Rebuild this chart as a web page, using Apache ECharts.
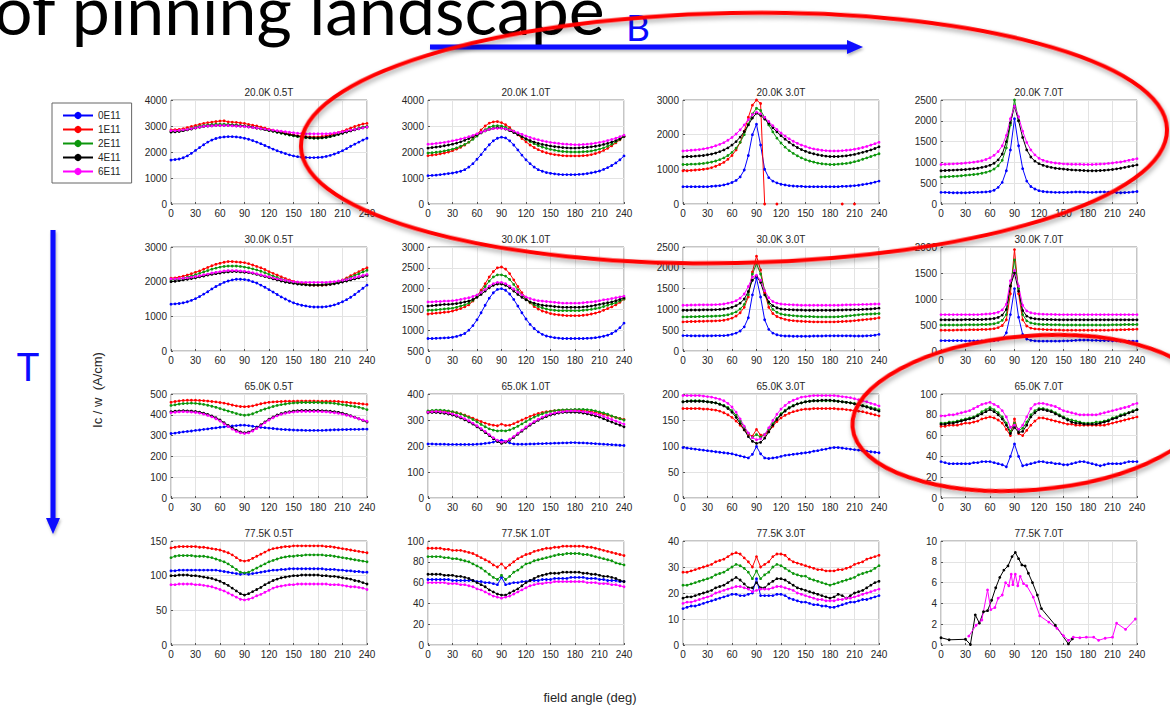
<!DOCTYPE html>
<html>
<head>
<meta charset="utf-8">
<script src="https://cdn.jsdelivr.net/npm/echarts@6/dist/echarts.min.js"></script>
<style>
html,body{margin:0;padding:0;background:#fff;}
#chart{width:1170px;height:709px;}
</style>
</head>
<body>
<div id="chart"></div>
<script>
// ---------- data ----------
const ANGLES = [0,5,10,15,20,25,30,35,40,45,50,55,60,65,70,75,80,85,90,95,100,105,110,115,120,125,130,135,140,145,150,155,160,165,170,175,180,185,190,195,200,205,210,215,220,225,230,235,240];
const X_TICKS = [0,30,60,90,120,150,180,210,240];
const DOSES = ['0E11','1E11','2E11','4E11','6E11'];
const TEMPS = ['20.0K','30.0K','65.0K','77.5K'];
const FIELDS = ['0.5T','1.0T','3.0T','7.0T'];
// [min, max, step] of the Ic/w axis for each panel, row by row
const Y_AXES = [
  [0,4000,1000],[0,4000,1000],[0,3000,1000],[0,2500,500],
  [0,3000,1000],[500,3000,500],[0,2500,500],[0,2000,500],
  [0,500,100],[0,400,100],[0,200,50],[0,100,20],
  [0,150,50],[0,100,20],[0,40,10],[0,10,2]
];

// Ic/w (A/cm) per dose [0E11, 1E11, 2E11, 4E11, 6E11], sampled on ANGLES
const IC_20K_05T = [
  [1690,1710,1730,1780,1850,1950,2060,2170,2280,2380, 2460,2520,2560,2580,2590,2590,2580,2560,2530,2490, 2440,2380,2320,2250,2180,2110,2050,1990,1940,1890, 1850,1820,1800,1790,1785,1785,1790,1800,1830,1870, 1920,1980,2050,2130,2220,2300,2380,2460,2530],
  [2850,2860,2870,2900,2940,2980,3020,3060,3100,3130, 3150,3170,3190,3200,3160,3150,3140,3120,3100,3060, 3030,3000,2960,2920,2880,2840,2800,2760,2720,2690, 2660,2630,2610,2590,2580,2580,2580,2600,2620,2660, 2700,2750,2800,2860,2920,2980,3030,3080,3100],
  [2780,2790,2800,2830,2870,2910,2950,2990,3020,3040, 3060,3070,3070,3070,3060,3050,3040,3020,3000,2980, 2950,2920,2890,2860,2830,2800,2760,2720,2690,2650, 2620,2590,2570,2550,2540,2530,2530,2540,2560,2590, 2630,2680,2730,2780,2830,2880,2920,2960,2980],
  [2770,2780,2790,2820,2850,2880,2920,2950,2980,3000, 3010,3020,3020,3020,3020,3020,3010,3000,2990,2970, 2950,2920,2890,2860,2830,2800,2770,2740,2700,2670, 2640,2610,2590,2570,2550,2540,2540,2550,2570,2600, 2640,2680,2720,2770,2810,2850,2890,2930,2960],
  [2820,2820,2830,2850,2870,2900,2930,2960,2990,3000, 3010,3020,3020,3020,3020,3010,3000,2990,2980,2960, 2940,2920,2900,2880,2860,2840,2820,2800,2780,2760, 2740,2720,2710,2700,2700,2700,2700,2700,2700,2710, 2730,2750,2780,2810,2840,2870,2900,2930,2960]
];
const IC_20K_1T = [
  [1090,1100,1110,1130,1150,1170,1190,1220,1260,1320, 1420,1550,1720,1900,2100,2280,2430,2530,2570,2540, 2430,2270,2080,1880,1700,1550,1420,1320,1260,1210, 1180,1160,1140,1130,1130,1130,1130,1140,1150,1170, 1200,1230,1270,1330,1400,1480,1580,1700,1850],
  [1860,1880,1900,1930,1960,2000,2050,2110,2180,2270, 2380,2520,2680,2850,3000,3110,3160,3170,3130,3050, 2940,2800,2660,2520,2390,2270,2170,2090,2020,1970, 1930,1900,1880,1860,1850,1850,1850,1850,1860,1870, 1900,1940,1990,2060,2140,2240,2350,2470,2600],
  [1960,1970,1990,2010,2040,2070,2110,2160,2220,2290, 2380,2490,2610,2740,2860,2950,3000,3010,3000,2950, 2880,2790,2690,2590,2490,2400,2320,2250,2190,2140, 2100,2070,2040,2020,2010,2000,2000,2000,2010,2020, 2040,2070,2110,2160,2220,2300,2390,2490,2600],
  [2150,2170,2190,2210,2240,2270,2300,2340,2390,2450, 2520,2590,2660,2740,2810,2870,2910,2930,2920,2880, 2820,2750,2670,2590,2510,2440,2380,2330,2290,2260, 2230,2210,2190,2170,2160,2150,2150,2160,2170,2180, 2200,2220,2250,2290,2330,2380,2440,2510,2600],
  [2300,2310,2330,2350,2370,2400,2430,2460,2500,2540, 2590,2640,2700,2760,2820,2870,2900,2910,2910,2890, 2850,2800,2740,2680,2620,2560,2510,2470,2430,2400, 2370,2350,2330,2310,2300,2290,2280,2280,2290,2300, 2320,2340,2370,2400,2440,2480,2530,2590,2650]
];
const IC_20K_3T = [
  [500,500,500,500,500,500,500,510,520,530, 550,580,620,680,780,980,1400,2000,2300,1700, 1000,760,660,610,570,550,530,520,510,510, 500,500,500,500,500,500,500,500,500,510, 510,520,530,540,560,580,600,630,660],
  [960,960,970,980,990,1000,1020,1050,1090,1140, 1200,1290,1400,1560,1780,2100,2500,2850,3000,2900, 0,null,null,0,null,null,null,null,null,null, null,null,null,null,null,null,null,null,null,0, null,null,0,null,null,null,null,null,null],
  [1140,1140,1150,1150,1160,1170,1190,1210,1240,1280, 1330,1400,1490,1610,1780,2000,2300,2600,2760,2700, 2500,2280,2080,1900,1760,1640,1540,1460,1390,1330, 1280,1240,1210,1180,1160,1150,1140,1140,1150,1160, 1170,1190,1220,1250,1290,1330,1370,1410,1450],
  [1360,1370,1370,1380,1390,1400,1420,1440,1470,1510, 1560,1620,1700,1800,1930,2090,2280,2480,2620,2560, 2450,2330,2200,2080,1970,1870,1780,1700,1630,1570, 1520,1480,1450,1420,1400,1380,1370,1370,1370,1380, 1390,1410,1430,1460,1490,1520,1560,1600,1650],
  [1530,1540,1550,1560,1570,1590,1610,1640,1680,1720, 1770,1840,1920,2020,2140,2280,2430,2580,2650,2600, 2500,2380,2260,2150,2050,1960,1880,1810,1750,1700, 1660,1620,1590,1570,1550,1540,1530,1530,1530,1540, 1550,1560,1580,1600,1630,1660,1700,1740,1780]
];
const IC_20K_7T = [
  [280,280,275,270,270,270,270,275,280,280, 285,290,300,330,400,520,800,1300,2050,1400, 850,550,420,360,320,300,290,285,280,280, 280,280,285,290,290,285,280,280,285,290, 290,285,280,275,270,275,280,290,300],
  [],
  [650,655,660,665,670,680,690,700,710,720, 740,760,790,840,920,1050,1350,1900,2500,2000],
  [800,805,810,815,820,825,830,840,850,860, 880,900,930,980,1060,1200,1500,1950,2350,2000, 1600,1300,1130,1030,970,930,900,880,860,850, 840,830,820,815,810,805,800,800,800,805, 810,820,830,845,860,880,900,920,940],
  [950,955,960,965,970,975,985,995,1005,1020, 1040,1070,1110,1170,1260,1400,1650,2050,2350,2100, 1750,1480,1300,1180,1100,1050,1020,1000,985,975, 965,960,955,955,955,950,950,950,955,960, 965,975,985,1000,1010,1030,1050,1070,1090]
];
const IC_30K_05T = [
  [1350,1360,1370,1390,1420,1460,1510,1570,1640,1710, 1790,1860,1920,1980,2020,2050,2070,2070,2060,2040, 2000,1960,1900,1840,1770,1700,1630,1560,1500,1440, 1390,1350,1320,1300,1280,1270,1270,1270,1280,1300, 1330,1370,1420,1480,1550,1630,1720,1810,1900],
  [2100,2110,2130,2160,2190,2230,2270,2310,2360,2410, 2460,2500,2530,2560,2580,2580,2570,2560,2550,2520, 2480,2440,2400,2350,2290,2240,2190,2140,2090,2050, 2010,1980,1950,1930,1910,1900,1900,1900,1910,1930, 1960,2000,2050,2110,2170,2230,2290,2350,2400],
  [2050,2060,2080,2100,2130,2160,2200,2240,2280,2320, 2360,2390,2420,2440,2450,2450,2450,2440,2420,2400, 2370,2340,2300,2260,2210,2160,2120,2080,2040,2000, 1970,1950,1930,1920,1910,1910,1910,1920,1930,1940, 1960,1990,2030,2080,2130,2180,2230,2280,2330],
  [2000,2010,2030,2050,2070,2090,2110,2140,2160,2190, 2210,2230,2250,2270,2280,2290,2290,2280,2270,2260, 2240,2210,2180,2150,2120,2080,2050,2020,1990,1970, 1950,1930,1920,1910,1900,1900,1900,1900,1910,1920, 1940,1960,1990,2020,2050,2080,2110,2150,2180],
  [2080,2080,2090,2100,2110,2130,2150,2170,2200,2220, 2250,2270,2290,2310,2320,2320,2320,2310,2300,2280, 2260,2230,2200,2170,2140,2110,2080,2060,2040,2020, 2000,1990,1980,1980,1980,1980,1980,1980,1980,1990, 2000,2020,2040,2060,2090,2120,2150,2180,2210]
];
const IC_30K_1T = [
  [800,800,805,810,815,820,830,850,880,920, 1000,1110,1250,1420,1600,1770,1900,1980,2000,1960, 1870,1740,1580,1420,1270,1140,1040,960,900,860, 840,820,810,800,800,800,800,800,800,805, 810,820,835,855,880,920,980,1060,1170],
  [1390,1400,1410,1420,1430,1440,1460,1490,1520,1560, 1610,1700,1820,1960,2120,2280,2410,2500,2520,2470, 2360,2210,2050,1900,1770,1660,1570,1510,1460,1430, 1400,1380,1370,1360,1350,1350,1350,1350,1360,1370, 1390,1410,1440,1480,1520,1560,1610,1670,1750],
  [1480,1480,1490,1500,1510,1520,1530,1550,1580,1610, 1650,1720,1810,1920,2050,2180,2280,2330,2330,2300, 2220,2100,1970,1850,1750,1670,1610,1570,1540,1510, 1490,1480,1470,1470,1470,1470,1470,1470,1480,1490, 1500,1520,1540,1570,1600,1630,1660,1700,1750],
  [1580,1590,1600,1610,1620,1620,1630,1640,1660,1680, 1700,1740,1790,1860,1940,2020,2080,2110,2110,2080, 2020,1940,1860,1790,1730,1680,1650,1620,1600,1590, 1580,1570,1560,1550,1550,1550,1550,1550,1560,1570, 1580,1600,1620,1640,1660,1680,1710,1740,1780],
  [1680,1680,1690,1690,1700,1700,1710,1720,1740,1760, 1780,1810,1850,1910,1980,2060,2120,2150,2150,2120, 2060,1990,1920,1850,1800,1760,1730,1710,1700,1690, 1680,1670,1660,1650,1650,1650,1650,1650,1660,1670, 1680,1690,1710,1730,1740,1760,1780,1800,1820]
];
const IC_30K_3T = [
  [370,370,365,365,365,365,365,365,370,370, 370,380,400,430,480,580,800,1350,1750,1300, 750,520,430,390,370,360,360,355,355,355, 355,355,360,360,360,365,365,365,365,365, 365,365,360,360,360,365,370,380,400],
  [700,705,710,710,715,715,720,720,725,730, 740,760,790,840,920,1050,1300,1900,2280,1950, 1400,1050,900,830,790,760,740,730,720,715, 710,705,700,700,700,700,700,700,705,710, 715,720,730,740,750,760,770,780,800],
  [820,820,825,825,830,830,835,835,840,845, 855,870,900,940,1010,1120,1350,1850,2100,1850, 1450,1150,1000,930,890,870,860,850,840,835, 830,830,825,820,820,820,820,820,825,830, 840,850,860,870,880,885,890,895,900],
  [980,980,985,985,985,990,990,990,995,1000, 1010,1025,1050,1090,1150,1250,1430,1700,1800,1650, 1350,1180,1090,1040,1010,1000,995,990,985,985, 980,980,980,980,980,980,980,980,985,985, 990,990,995,995,1000,1005,1010,1020,1030],
  [1100,1100,1105,1105,1110,1110,1110,1110,1115,1120, 1130,1150,1170,1210,1270,1370,1550,1780,1820,1700, 1450,1280,1190,1150,1130,1120,1115,1110,1105,1100, 1100,1100,1100,1100,1100,1100,1100,1100,1100,1105, 1110,1110,1115,1115,1120,1120,1125,1130,1130]
];
const IC_30K_7T = [
  [200,200,200,200,200,200,195,195,195,195, 195,195,195,200,210,240,350,700,1200,650, 320,230,205,195,190,190,190,190,190,190, 195,195,200,205,210,210,210,205,205,200, 200,200,195,195,190,190,190,190,190],
  [400,400,400,400,405,405,405,410,410,410, 415,415,420,430,450,490,600,1100,1950,1100, 600,480,440,425,420,415,410,410,405,405, 400,400,400,400,400,400,400,400,400,400, 400,400,405,405,410,410,415,415,420],
  [500,500,500,500,500,500,505,505,505,505, 510,510,515,525,545,590,700,1250,1750,1200, 700,580,540,525,515,510,510,505,505,505, 500,500,500,500,500,500,500,500,500,500, 500,500,505,505,505,510,510,510,510],
  [600,600,600,600,600,600,605,605,605,605, 605,610,615,625,645,690,800,1250,1500,1150, 780,670,635,620,612,608,605,605,602,600, 600,600,600,600,600,600,600,600,600,600, 600,600,600,600,600,600,600,600,600],
  [700,700,700,700,700,700,700,700,700,700, 705,710,715,725,745,790,900,1350,1550,1250, 880,770,735,720,712,708,705,705,702,700, 700,700,700,700,700,700,700,700,700,700, 700,700,700,700,700,700,700,700,700]
];
const IC_65K_05T = [
  [310,312,315,318,320,322,325,327,330,332, 335,337,340,342,344,346,348,350,350,348, 345,342,340,338,336,334,332,330,329,328, 327,326,326,325,325,325,325,325,326,327, 328,328,329,329,330,330,330,331,331],
  [460,464,467,469,470,470,470,469,468,466, 464,462,459,456,452,447,443,440,439,440, 443,448,453,457,460,462,463,464,465,465, 465,466,466,466,466,466,465,465,465,465, 465,464,462,460,458,456,454,452,450],
  [445,448,452,454,455,456,455,453,450,446, 441,436,430,424,418,412,406,401,398,400, 405,413,421,428,434,440,445,449,452,455, 457,458,459,459,459,459,459,458,458,457, 455,452,449,446,443,440,436,431,425],
  [415,417,419,420,419,418,416,413,408,402, 395,386,375,362,349,337,326,318,314,317, 326,338,352,366,379,390,399,406,411,415, 418,420,421,421,421,421,421,420,419,417, 415,412,408,402,396,389,381,373,365],
  [410,412,414,415,414,413,411,408,403,397, 390,381,370,357,344,331,320,313,310,313, 322,334,348,362,375,386,395,402,407,411, 413,415,416,416,416,416,416,415,414,412, 410,407,403,398,393,387,381,375,369]
];
const IC_65K_1T = [
  [208,208,207,207,207,206,206,206,206,206, 206,206,207,208,210,212,215,219,222,218, 212,208,207,207,207,208,208,209,209,210, 210,211,211,212,212,213,213,212,212,211, 210,209,208,207,206,205,204,203,202],
  [332,334,335,335,334,333,331,328,324,319, 313,307,300,294,288,283,280,278,284,279, 280,286,293,300,307,314,320,325,329,332, 334,336,337,338,338,338,338,337,336,334, 332,329,326,322,318,314,310,306,302],
  [335,337,338,338,337,335,332,328,323,317, 310,302,293,283,274,266,261,258,259,258, 262,268,276,285,294,303,311,318,324,329, 333,336,338,339,340,340,341,341,341,340, 338,335,331,327,322,316,310,305,300],
  [328,329,329,328,326,323,319,314,308,301, 293,284,274,263,252,240,228,217,210,214, 222,233,245,257,269,280,290,299,307,313, 319,323,327,329,330,330,330,329,327,324, 320,316,311,305,298,292,286,280,274],
  [330,332,333,332,330,327,323,318,312,305, 297,288,278,267,256,244,232,222,215,218, 226,237,249,261,273,284,294,303,311,318, 323,327,330,332,334,335,335,334,332,330, 327,323,319,314,308,302,296,290,284]
];
const IC_65K_3T = [
  [97,96,95,94,93,92,91,90,89,88, 87,86,85,83,81,79,77,84,99,85, 77,76,77,78,80,82,83,84,85,86, 87,88,90,91,93,94,96,97,97,96, 95,94,93,92,91,90,89,88,87],
  [172,172,172,172,172,171,171,170,169,167, 164,160,155,148,140,131,122,119,132,121, 121,128,138,147,154,159,163,166,168,170, 171,171,172,172,172,172,172,172,171,171, 170,169,168,167,166,164,162,160,158],
  [185,186,187,187,187,186,185,184,183,181, 178,174,168,159,148,136,124,117,122,117, 122,132,143,153,162,169,174,178,181,183, 185,186,187,187,187,187,187,187,186,185, 184,183,182,180,178,176,174,172,170],
  [185,186,186,186,186,186,185,184,183,180, 177,172,165,155,143,131,118,109,105,107, 115,127,140,151,160,167,173,177,181,183, 185,186,187,187,188,188,188,187,186,185, 184,183,181,179,177,175,172,170,167],
  [197,197,197,197,197,196,195,194,192,190, 187,182,175,165,152,138,125,116,112,114, 122,135,149,161,171,178,184,188,191,194, 195,196,197,197,197,197,197,197,196,195, 194,193,191,189,187,185,182,180,177]
];
const IC_65K_7T = [
  [35,34,33,33,33,33,33,33,34,34, 35,35,35,34,33,32,30,40,52,40, 31,32,33,34,35,35,34,34,33,33, 32,32,33,34,35,35,34,33,32,31, 32,33,33,33,33,34,35,35,35],
  [69,69,70,70,70,71,72,72,73,74, 76,77,78,77,75,72,66,60,76,62, 60,65,70,74,77,77,76,75,74,73, 72,71,71,70,70,70,70,70,70,70, 70,71,72,73,74,75,76,77,78],
  [72,72,73,73,74,75,76,77,78,80, 83,85,87,85,82,78,72,64,72,65, 67,73,80,84,86,86,85,84,82,80, 78,76,75,74,73,72,72,72,73,73, 74,75,77,78,80,81,82,84,85],
  [71,71,72,72,73,74,75,76,77,79, 81,83,85,83,80,76,70,62,68,63, 64,70,78,82,85,85,84,83,81,79, 77,75,73,72,72,71,71,71,71,72, 73,74,76,77,79,80,82,83,85],
  [79,79,80,80,81,82,83,84,86,88, 90,91,92,90,88,84,78,68,70,66, 70,78,86,90,91,91,90,89,88,86, 84,83,82,81,80,80,80,80,80,81, 82,83,84,85,86,87,88,90,91]
];
const IC_775K_05T = [
  [107,107,108,108,108,108,108,108,108,108, 108,108,107,106,105,104,103,102,103,102, 103,104,105,106,107,108,108,109,109,110, 110,110,110,110,110,110,110,110,109,109, 109,108,108,107,107,106,106,105,105],
  [140,141,142,142,142,142,142,141,141,140, 139,138,137,135,133,130,126,122,121,122, 125,128,131,134,137,139,140,141,142,142, 143,143,143,143,143,143,143,143,142,142, 141,140,139,138,137,136,135,134,133],
  [126,128,129,129,129,129,128,128,128,127, 126,124,122,120,117,113,109,105,104,105, 108,111,114,117,120,122,124,126,127,128, 128,129,129,130,130,130,130,130,129,129, 128,127,126,125,124,123,122,121,120],
  [100,100,101,101,101,100,100,99,98,97, 96,94,92,89,86,82,78,74,72,74, 77,80,83,87,90,93,95,97,98,99, 100,100,101,101,101,101,101,100,100,99, 99,98,97,96,95,93,92,90,88],
  [87,87,88,88,88,88,87,87,86,85, 84,82,80,78,75,72,69,66,65,66, 68,71,73,76,79,82,84,85,86,87, 87,88,88,88,88,88,88,88,88,87, 87,87,86,85,84,84,83,82,80]
];
const IC_775K_1T = [
  [63,63,63,63,63,63,62,62,62,62, 62,62,61,61,60,60,59,58,65,58, 59,60,60,61,61,62,62,62,63,63, 63,64,64,64,64,65,65,65,65,64, 64,64,63,63,62,62,62,61,61],
  [93,93,93,93,92,92,91,91,91,90, 89,88,86,84,82,80,77,75,78,74, 77,80,83,85,87,88,90,91,92,93, 93,94,94,95,95,95,95,95,95,94, 94,93,92,91,90,89,88,87,86],
  [85,85,85,85,84,84,83,83,82,81, 80,78,76,74,71,68,65,63,67,63, 66,70,72,75,78,79,81,82,83,84, 85,86,87,87,88,88,88,88,87,87, 86,85,84,83,82,81,79,78,77],
  [68,68,68,68,67,67,67,66,66,65, 64,62,60,58,56,53,51,49,48,48, 50,52,54,57,60,62,64,66,67,68, 69,69,69,70,70,70,70,70,69,69, 68,68,67,66,66,65,64,62,61],
  [60,60,60,60,60,59,59,59,58,58, 57,56,54,53,51,49,47,46,45,46, 47,49,51,53,55,57,58,59,59,60, 60,61,61,61,61,61,61,61,61,60, 60,60,59,59,59,58,58,57,56]
];
const IC_775K_3T = [
  [14,14.5,15,15,15.5,16,16.5,17,17.5,18, 18.5,19,19.5,19.5,19,19,19.5,20,25.5,19, 19,19,19,19.5,19.5,19,18,17.5,17,16.5, 16.5,16,15.5,15.5,15,15,14.5,14.5,15,15.5, 16,16.5,16.5,17,17.5,17.5,18,18.5,19],
  [28,28,28.5,29,29.5,30,30.5,31,32,32.5, 33,34,35,35.5,35,33.5,32,30,34,30, 31,32,34,35,35,34.5,33,32,31.5,31, 30.5,30,29.5,29,29,28.5,28.5,28.5,29,29, 29.5,30,31,31.5,32,33,33.5,34,34.5],
  [23,23,23.5,24,24.5,25,25.5,26,27,27.5, 28,29,30,31,30.5,29.5,28,25.5,28.5,25.5, 27,28,30,31,30.5,29.5,28.5,27.5,27,26.5, 26.5,25.5,25,24.5,24,23.5,23,23.5,24,24.5, 25,25.5,26,27,27.5,28,28.5,29.5,30.5],
  [18,18.5,18.5,19,19.5,20,20.5,21,22,22.5, 23,24,25,26,25,23.5,22,22,24,22, 22,23.5,24.5,25.5,25.5,25,24,23,22,21.5, 21,20.5,20,19.5,19,18.5,18,18.5,19.5,19, 18,19,20,20.5,21,22,23,24,24.5],
  [16,16.5,16.5,17,17.5,18,18.5,19,20,20.5, 21,21.5,22,22.5,22.5,22,21.5,20.5,21,21.5, 21.5,21.5,22,22.5,22.5,22,21.5,21,20,19.5, 19,18.5,18,17.5,17.5,17,17,17,17.5,17.5, 18,18,18.5,19,19.5,20,20.5,21,21.5]
];
// 77.5K 7.0T was measured on its own angle grid: [angle, Ic/w] pairs
const IC_775K_7T_4E11 = [[0,0.7],[10,0.5],[30,0.55],[36,0.05],[42,2.9],[47,2.1],[52,3.2],[57,3.3],[62,4.3],[67,5.5],[72,6.5],[77,7.2],[82,7.6],[87,8.5],[91,8.9],[95,8.3],[99,7.7],[103,7.6],[107,6.9],[112,6.0],[118,4.8],[123,3.5],[140,1.9],[156,0.1],[161,0.6]];
const IC_775K_7T_6E11 = [[34,0.85],[43,1.9],[50,2.4],[57,5.3],[61,3.4],[66,3.6],[70,4.5],[75,4.8],[79,6.0],[83,5.7],[86,6.8],[88,5.8],[91,6.8],[94,5.7],[97,6.6],[101,5.9],[105,5.7],[113,4.6],[121,2.8],[132,2.2],[142,1.6],[150,0.9],[156,0.45],[162,0.75],[170,0.7],[178,0.75],[187,0.75],[193,0.45],[201,0.65],[210,0.75],[215,2.1],[226,1.5],[238,2.5]];
const IC_775K_7T = [[], [], [], IC_775K_7T_4E11, IC_775K_7T_6E11];

const PANELS = [
  IC_20K_05T, IC_20K_1T, IC_20K_3T, IC_20K_7T,
  IC_30K_05T, IC_30K_1T, IC_30K_3T, IC_30K_7T,
  IC_65K_05T, IC_65K_1T, IC_65K_3T, IC_65K_7T,
  IC_775K_05T, IC_775K_1T, IC_775K_3T, IC_775K_7T
];

// ---------- layout & style ----------
const DOSE_COLORS = ['#0000ff', '#ff0000', '#0c960c', '#000000', '#ff00ff'];
const COL_LEFT = [171, 428, 683, 941];
const ROW_TOP = [100, 247, 394, 541];
const PANEL_W = 196, PANEL_H = 104;
const CHART_W = 1170, CHART_H = 709;
const AXIS_FONT = 'Liberation Sans, Arial, sans-serif';
const SLIDE_FONT = 'Lato, "Open Sans", sans-serif';

function toPairs(vals) {
  if (vals.length && Array.isArray(vals[0])) return vals;
  return vals.map((v, i) => [ANGLES[i], v]);
}

const grids = [], xAxes = [], yAxes = [], series = [], graphics = [];

PANELS.forEach((panel, p) => {
  const r = Math.floor(p / 4), c = p % 4;
  const left = COL_LEFT[c], top = ROW_TOP[r];
  grids.push({
    left: left, top: top, width: PANEL_W, height: PANEL_H,
    show: true, borderColor: '#8c8c8c', borderWidth: 1, backgroundColor: '#fff'
  });
  xAxes.push({
    type: 'value', gridIndex: p, min: X_TICKS[0], max: X_TICKS[X_TICKS.length - 1],
    interval: X_TICKS[1] - X_TICKS[0],
    axisLine: { show: false },
    axisTick: { show: true, inside: true, length: 2, lineStyle: { color: '#555' } },
    axisLabel: { fontSize: 10, color: '#262626', margin: 4, fontFamily: AXIS_FONT },
    splitLine: { show: true, lineStyle: { color: '#e3e3e3', width: 1 } }
  });
  const ya = Y_AXES[p];
  yAxes.push({
    type: 'value', gridIndex: p, min: ya[0], max: ya[1], interval: ya[2],
    axisLine: { show: false },
    axisTick: { show: true, inside: true, length: 2, lineStyle: { color: '#555' } },
    axisLabel: { fontSize: 10, color: '#262626', margin: 4, fontFamily: AXIS_FONT,
                 formatter: v => String(v) },
    splitLine: { show: true, lineStyle: { color: '#e3e3e3', width: 1 } }
  });
  panel.forEach((vals, d) => {
    series.push({
      type: 'line', name: DOSES[d], xAxisIndex: p, yAxisIndex: p,
      data: toPairs(vals),
      color: DOSE_COLORS[d],
      lineStyle: { width: 1, color: DOSE_COLORS[d] },
      itemStyle: { color: DOSE_COLORS[d] },
      symbol: 'circle', symbolSize: 2.8, showSymbol: true,
      connectNulls: false, clip: true, silent: true,
      animation: false
    });
  });
  // panel title
  graphics.push({
    type: 'text', x: left + PANEL_W / 2, y: top - 8,
    style: { text: TEMPS[r] + ' ' + FIELDS[c], fill: '#262626',
             font: '10px ' + AXIS_FONT, textAlign: 'center', textVerticalAlign: 'middle',
             align: 'center', verticalAlign: 'middle' }
  });
});

// slide annotations: heading, direction arrows, highlight ellipses, axis names
const BLUE = '#0a0aff', RED = '#ff0000';
const arrowShadow = { shadowBlur: 3, shadowOffsetX: 1, shadowOffsetY: 2, shadowColor: 'rgba(0,0,0,0.3)' };
graphics.push(
  { type: 'text', x: -6, y: 8, z: 50,
    style: { text: 'of pinning landscape', fill: '#000', font: '68px ' + SLIDE_FONT,
             textAlign: 'left', textVerticalAlign: 'middle', align: 'left', verticalAlign: 'middle' } },
  { type: 'text', x: 626, y: 26, z: 50,
    style: { text: 'B', fill: BLUE, font: '37px ' + SLIDE_FONT,
             textAlign: 'left', textVerticalAlign: 'middle', align: 'left', verticalAlign: 'middle' } },
  { type: 'rect', z: 50, shape: { x: 430, y: 44.5, width: 419, height: 5 },
    style: Object.assign({ fill: BLUE }, arrowShadow) },
  { type: 'polygon', z: 50, shape: { points: [[847, 40], [863, 47], [847, 54]] },
    style: Object.assign({ fill: BLUE }, arrowShadow) },
  { type: 'rect', z: 50, shape: { x: 50.5, y: 230, width: 5, height: 290 },
    style: Object.assign({ fill: BLUE }, arrowShadow) },
  { type: 'polygon', z: 50, shape: { points: [[46, 518], [53, 534], [60, 518]] },
    style: Object.assign({ fill: BLUE }, arrowShadow) },
  { type: 'text', x: 28, y: 366, z: 50,
    style: { text: 'T', fill: BLUE, font: '38px ' + SLIDE_FONT,
             textAlign: 'center', textVerticalAlign: 'middle', align: 'center', verticalAlign: 'middle' } },
  { type: 'ellipse', x: 734, y: 138, rotation: 0.02, z: 60,
    shape: { cx: 0, cy: 0, rx: 433, ry: 125 },
    style: { fill: 'none', stroke: RED, lineWidth: 4,
             shadowBlur: 5, shadowOffsetX: 1, shadowOffsetY: 3, shadowColor: 'rgba(0,0,0,0.35)' } },
  { type: 'ellipse', x: 1030, y: 413, rotation: 0.08, z: 60,
    shape: { cx: 0, cy: 0, rx: 178, ry: 77 },
    style: { fill: 'none', stroke: RED, lineWidth: 4,
             shadowBlur: 5, shadowOffsetX: 1, shadowOffsetY: 3, shadowColor: 'rgba(0,0,0,0.35)' } },
  { type: 'text', x: 97, y: 390, rotation: Math.PI / 2, z: 50,
    style: { text: 'Ic / w  (A/cm)', fill: '#262626', font: '13px ' + AXIS_FONT,
             textAlign: 'center', textVerticalAlign: 'middle', align: 'center', verticalAlign: 'middle' } },
  { type: 'text', x: 590, y: 697, z: 50,
    style: { text: 'field angle (deg)', fill: '#262626', font: '13px ' + AXIS_FONT,
             textAlign: 'center', textVerticalAlign: 'middle', align: 'center', verticalAlign: 'middle' } }
);

const chart = echarts.init(document.getElementById('chart'), null,
  { renderer: 'svg', width: CHART_W, height: CHART_H });
chart.setOption({
  animation: false,
  backgroundColor: '#fff',
  legend: {
    data: DOSES, orient: 'vertical', left: 52, top: 103,
    itemWidth: 30, itemHeight: 9, itemGap: 3,
    padding: [7, 11, 6, 10],
    borderColor: '#666', borderWidth: 1, backgroundColor: '#fff',
    selectedMode: false,
    textStyle: { fontSize: 10, color: '#262626', fontFamily: AXIS_FONT, lineHeight: 11 }
  },
  grid: grids,
  xAxis: xAxes,
  yAxis: yAxes,
  series: series,
  graphic: { elements: graphics }
});
</script>
</body>
</html>
